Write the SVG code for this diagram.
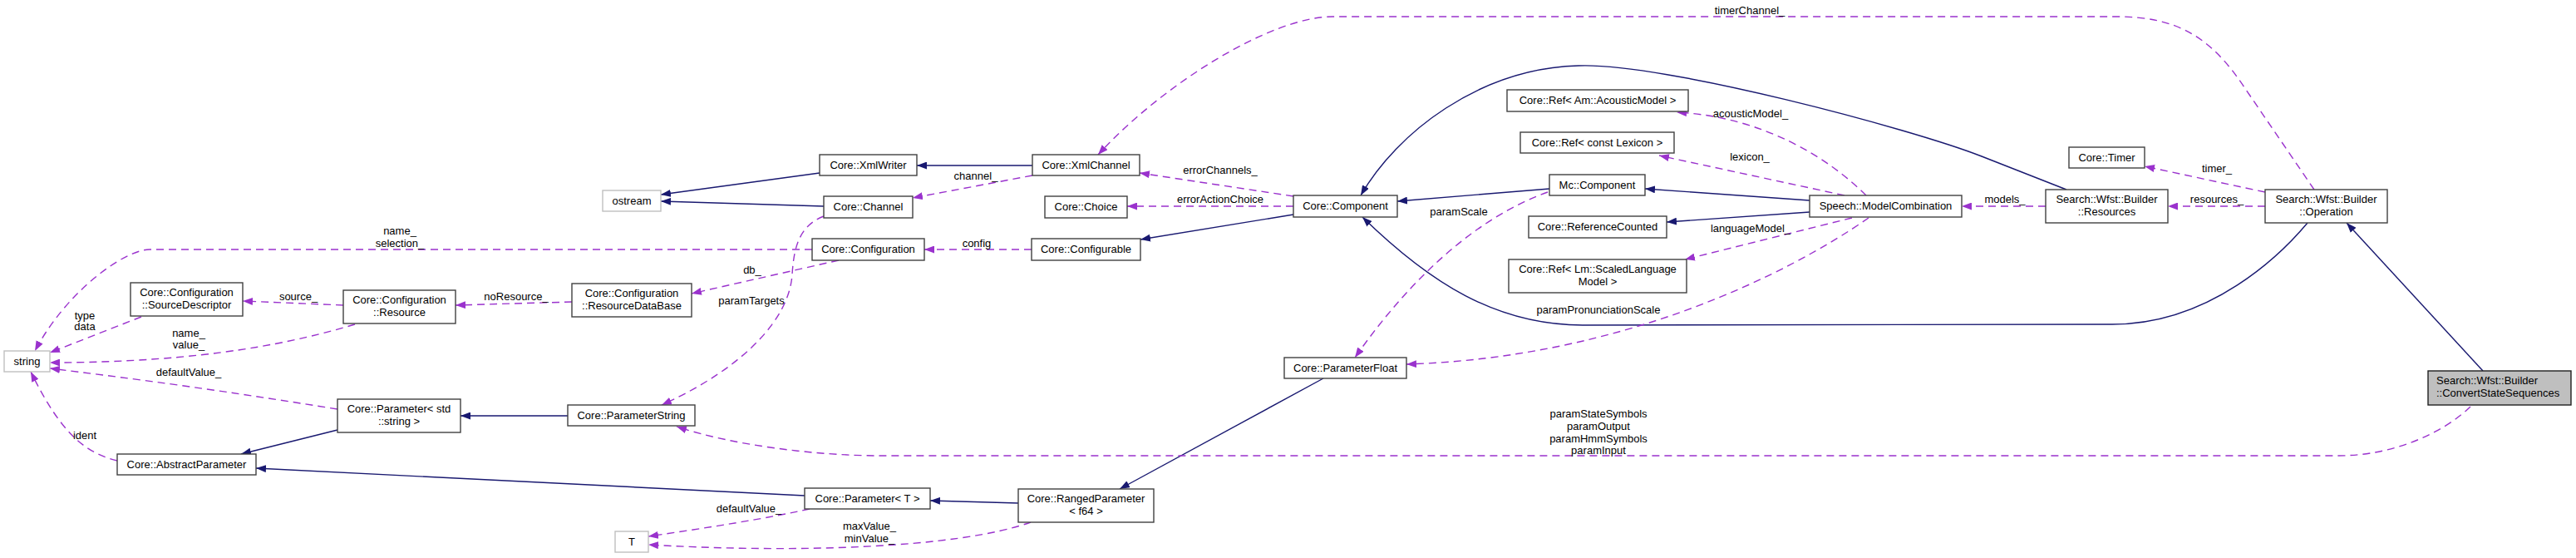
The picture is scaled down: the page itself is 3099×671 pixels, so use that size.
<svg xmlns="http://www.w3.org/2000/svg" width="3099" height="671" viewBox="0 0 3099 671">
<style>
text{font-family:"Liberation Sans",Arial,Helvetica,sans-serif;font-size:13px;fill:#000}
.n rect{fill:#fff;stroke:#404040;stroke-width:1.4}
.e rect{fill:#fff;stroke:#bfbfbf;stroke-width:1.4}
.f rect{fill:#bfbfbf;stroke:#202020;stroke-width:1.4}
.c text,.n text,.e text{text-anchor:middle}
.inh{fill:none;stroke:#191970;stroke-width:1.4;marker-end:url(#an)}
.use{fill:none;stroke:#9a32cd;stroke-width:1.4;stroke-dasharray:9,6;marker-end:url(#ap)}
</style>
<defs>
<marker id="an" markerUnits="userSpaceOnUse" viewBox="0 0 12 9" markerWidth="12" markerHeight="9" refX="12" refY="4.5" orient="auto"><path d="M0,0 L12,4.5 L0,9 z" fill="#191970"/></marker>
<marker id="ap" markerUnits="userSpaceOnUse" viewBox="0 0 12 9" markerWidth="12" markerHeight="9" refX="12" refY="4.5" orient="auto"><path d="M0,0 L12,4.5 L0,9 z" fill="#9a32cd"/></marker>
</defs>
<rect width="3099" height="671" fill="#fff"/>
<g id="connectors" class="c">
<path class="inh" d="M986,208 L795,234"/>
<path class="inh" d="M991,248 L795,242"/>
<path class="inh" d="M1242,199 L1103,199"/>
<path class="inh" d="M1556,258 L1372,288"/>
<path class="inh" d="M1864,227 L1681,242"/>
<path class="inh" d="M2177,241 L1979,227"/>
<path class="inh" d="M2177,255 L2005,267"/>
<path class="inh" d="M2486,228 L2384,188 C2300,155 2000,75 1899,79 C1780,82 1680,160 1637,235"/>
<path class="inh" d="M2776,268 C2745,305 2660,390 2541,390 L1904,391 C1800,391 1720,340 1639,261"/>
<path class="inh" d="M2987,446 L2823,268"/>
<path class="inh" d="M406,517 L290,546"/>
<path class="inh" d="M683,500 L554,500"/>
<path class="inh" d="M968,596 L308,563"/>
<path class="inh" d="M1225,605 L1119,602"/>
<path class="inh" d="M1592,455 L1347,588"/>
<path class="use" d="M977,300 L180,300 C150,300 80,350 42,422"/>
<text x="481" y="282">name_</text><text x="481" y="297">selection_</text>
<path class="use" d="M170,381 L60,424"/>
<text x="102" y="384">type</text><text x="102" y="397">data</text>
<path class="use" d="M427,390 C360,410 250,436 60,436"/>
<text x="227" y="405">name_</text><text x="227" y="419">value_</text>
<path class="use" d="M406,492 C300,475 200,460 60,443"/>
<text x="227" y="452">defaultValue_</text>
<path class="use" d="M141,554 C105,545 75,525 37,447"/>
<text x="102" y="528">ident</text>
<path class="use" d="M413,367 L292,362"/>
<text x="359" y="361">source_</text>
<path class="use" d="M688,363 L548,367"/>
<text x="621" y="361">noResource_</text>
<path class="use" d="M1009,313 L832,353"/>
<text x="905" y="329">db_</text>
<path class="use" d="M991,260 C960,272 955,300 953,330 C950,380 900,440 796,487"/>
<text x="904" y="366">paramTargets</text>
<path class="use" d="M1242,211 L1098,238"/>
<text x="1174" y="216">channel_</text>
<path class="use" d="M1556,236 L1371,208"/>
<text x="1468" y="209">errorChannels_</text>
<path class="use" d="M1556,248 L1356,248"/>
<text x="1468" y="244">errorActionChoice</text>
<path class="use" d="M1241,300 L1112,300"/>
<text x="1175" y="297">config</text>
<path class="use" d="M2784,228 L2700,105 C2660,45 2620,20 2546,20 L1603,20 C1530,20 1400,100 1321,186"/>
<text x="2105" y="17">timerChannel_</text>
<path class="use" d="M2245,235 C2200,190 2120,140 2017,135"/>
<text x="2106" y="141">acousticModel_</text>
<path class="use" d="M2219,235 L1996,187"/>
<text x="2105" y="193">lexicon_</text>
<path class="use" d="M2228,262 L2027,312"/>
<text x="2106" y="279">languageModel_</text>
<path class="use" d="M2248,262 C2150,330 1950,430 1692,438"/>
<text x="1923" y="377">paramPronunciationScale</text>
<path class="use" d="M1862,231 C1780,260 1700,330 1630,430"/>
<text x="1755" y="259">paramScale</text>
<path class="use" d="M2461,248 L2360,248"/>
<text x="2412" y="244">models_</text>
<path class="use" d="M2725,248 L2608,248"/>
<text x="2667" y="244">resources_</text>
<path class="use" d="M2725,231 L2580,200"/>
<text x="2667" y="207">timer_</text>
<path class="use" d="M2972,489 C2940,520 2880,548 2813,548 L1060,548 C980,548 880,535 814,513"/>
<text x="1923" y="502">paramStateSymbols</text><text x="1923" y="517">paramOutput</text><text x="1923" y="532">paramHmmSymbols</text><text x="1923" y="546">paramInput</text>
<path class="use" d="M974,612 C930,622 850,635 780,645"/>
<text x="901" y="616">defaultValue_</text>
<path class="use" d="M1240,628 C1150,660 950,665 780,655"/>
<text x="1046" y="637">maxValue_</text><text x="1046" y="652">minValue_</text>
</g>
<g id="string" class="e"><rect x="5" y="422" width="55" height="25"/><text x="32.5" y="439">string</text></g>
<g id="sourceDescriptor" class="n"><rect x="157" y="340" width="135" height="40"/><text x="224.5" y="356">Core::Configuration</text><text x="224.5" y="371">::SourceDescriptor</text></g>
<g id="resource" class="n"><rect x="413" y="349" width="135" height="40"/><text x="480.5" y="365">Core::Configuration</text><text x="480.5" y="380">::Resource</text></g>
<g id="parameterStdString" class="n"><rect x="406" y="480" width="148" height="40"/><text x="480" y="496">Core::Parameter&lt; std</text><text x="480" y="511">::string &gt;</text></g>
<g id="abstractParameter" class="n"><rect x="141" y="546" width="167" height="25"/><text x="224.5" y="563">Core::AbstractParameter</text></g>
<g id="ostream" class="e"><rect x="725" y="229" width="70" height="25"/><text x="760" y="246">ostream</text></g>
<g id="xmlWriter" class="n"><rect x="986" y="186" width="117" height="25"/><text x="1044.5" y="203">Core::XmlWriter</text></g>
<g id="channel" class="n"><rect x="991" y="236" width="107" height="26"/><text x="1044.5" y="253">Core::Channel</text></g>
<g id="configuration" class="n"><rect x="977" y="287" width="135" height="26"/><text x="1044.5" y="304">Core::Configuration</text></g>
<g id="resourceDataBase" class="n"><rect x="688" y="341" width="144" height="40"/><text x="760" y="357">Core::Configuration</text><text x="760" y="372">::ResourceDataBase</text></g>
<g id="parameterString" class="n"><rect x="683" y="487" width="153" height="25"/><text x="759.5" y="504">Core::ParameterString</text></g>
<g id="xmlChannel" class="n"><rect x="1242" y="186" width="129" height="25"/><text x="1306.5" y="203">Core::XmlChannel</text></g>
<g id="choice" class="n"><rect x="1257" y="236" width="99" height="26"/><text x="1306.5" y="253">Core::Choice</text></g>
<g id="configurable" class="n"><rect x="1241" y="287" width="131" height="26"/><text x="1306.5" y="304">Core::Configurable</text></g>
<g id="coreComponent" class="n"><rect x="1556" y="235" width="125" height="26"/><text x="1618.5" y="252">Core::Component</text></g>
<g id="parameterFloat" class="n"><rect x="1545" y="430" width="147" height="25"/><text x="1618.5" y="447">Core::ParameterFloat</text></g>
<g id="rangedParameter" class="n"><rect x="1225" y="588" width="163" height="40"/><text x="1306.5" y="604">Core::RangedParameter</text><text x="1306.5" y="619">&lt; f64 &gt;</text></g>
<g id="parameterT" class="n"><rect x="968" y="587" width="151" height="25"/><text x="1043.5" y="604">Core::Parameter&lt; T &gt;</text></g>
<g id="T" class="e"><rect x="740" y="639" width="40" height="25"/><text x="760" y="656">T</text></g>
<g id="refAcousticModel" class="n"><rect x="1813" y="108" width="218" height="26"/><text x="1922" y="125">Core::Ref&lt; Am::AcousticModel &gt;</text></g>
<g id="refLexicon" class="n"><rect x="1829" y="159" width="185" height="25"/><text x="1921.5" y="176">Core::Ref&lt; const Lexicon &gt;</text></g>
<g id="mcComponent" class="n"><rect x="1864" y="210" width="115" height="25"/><text x="1921.5" y="227">Mc::Component</text></g>
<g id="referenceCounted" class="n"><rect x="1839" y="260" width="166" height="26"/><text x="1922" y="277">Core::ReferenceCounted</text></g>
<g id="refScaledLM" class="n"><rect x="1815" y="312" width="214" height="40"/><text x="1922" y="328">Core::Ref&lt; Lm::ScaledLanguage</text><text x="1922" y="343">Model &gt;</text></g>
<g id="modelCombination" class="n"><rect x="2177" y="235" width="183" height="26"/><text x="2268.5" y="252">Speech::ModelCombination</text></g>
<g id="timer" class="n"><rect x="2489" y="177" width="91" height="25"/><text x="2534.5" y="194">Core::Timer</text></g>
<g id="resources" class="n"><rect x="2461" y="228" width="147" height="40"/><text x="2534.5" y="244">Search::Wfst::Builder</text><text x="2534.5" y="259">::Resources</text></g>
<g id="operation" class="n"><rect x="2725" y="228" width="147" height="40"/><text x="2798.5" y="244">Search::Wfst::Builder</text><text x="2798.5" y="259">::Operation</text></g>
<g id="convertStateSequences" class="f"><rect x="2921" y="446" width="172" height="41"/><text x="2931" y="462">Search::Wfst::Builder</text><text x="2931" y="477">::ConvertStateSequences</text></g>
</svg>
